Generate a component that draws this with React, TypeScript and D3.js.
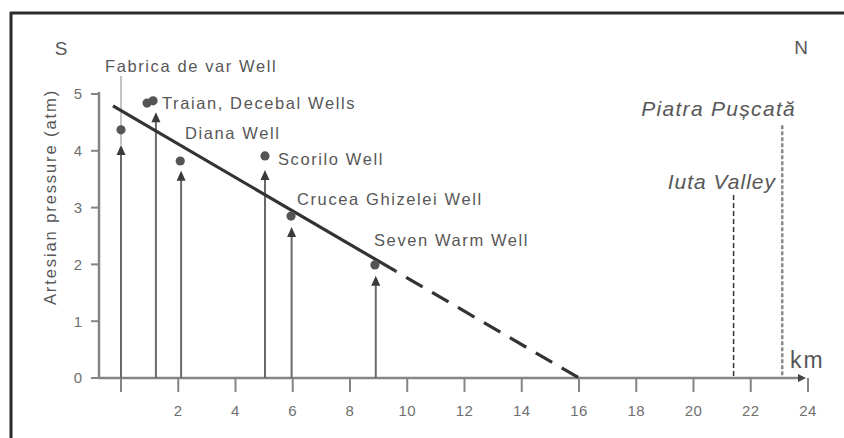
import React from 'react';
import * as d3 from 'd3';

// Wells: distance (km), measured artesian pressure (atm) and arrow top (atm)
const wellNames = [
  'Fabrica de var Well',
  'Traian, Decebal Wells',
  'Diana Well',
  'Scorilo Well',
  'Crucea Ghizelei Well',
  'Seven Warm Well',
];
const arrowKm = [0, 1.22, 2.1, 5.03, 5.96, 8.9];
const arrowTop = [4.1, 4.68, 3.65, 3.66, 2.66, 1.8];

// pressure points (Traian + Decebal are two dots)
const pointKm = [0, 0.91, 1.12, 2.07, 5.03, 5.94, 8.87];
const pointP = [4.37, 4.84, 4.88, 3.82, 3.91, 2.85, 1.99];

// trend line, solid part then projected (dashed) part
const trendSolid: [number, number][] = [[-0.28, 4.79], [9.6, 1.88]];
const trendDashed: [number, number][] = [[9.6, 1.88], [16, 0]];

// valley / peak markers
const markerNames = ['Iuta Valley', 'Piatra Pușcată'];
const markerKm = [21.4, 23.1];
const markerTop = [3.22, 4.45];

const xTicks = [0, 2, 4, 6, 8, 10, 12, 14, 16, 18, 20, 22, 24];
const yTicks = [0, 1, 2, 3, 4, 5];

const FONT = '"Liberation Sans", Arial, sans-serif';
const W = 844;
const H = 438;

// label placement in pixels
const labelOffsets = [
  { x: 105, y: 72 },
  { x: 162, y: 109 },
  { x: 185, y: 139 },
  { x: 278, y: 165 },
  { x: 297, y: 205 },
  { x: 374, y: 246 },
];

const App: React.FC = () => {
  const x = d3.scaleLinear().domain([0, 24]).range([121, 808]);
  const y = d3.scaleLinear().domain([0, 5]).range([378, 94]);

  const line = d3.line<[number, number]>()
    .x(d => x(d[0]))
    .y(d => y(d[1]));

  const textGray = '#575757';
  const axisGray = '#858585';

  return (
    <div style={{ position: 'absolute', left: 0, top: 0 }}>
      <svg width={W} height={H} style={{ display: 'block', background: '#fff' }}>
        {/* frame */}
        <line x1={10} y1={13} x2={W} y2={13} stroke="#2b2b2b" strokeWidth={3} />
        <line x1={11} y1={12} x2={11} y2={H} stroke="#2b2b2b" strokeWidth={3} />

        {/* direction letters */}
        <text x={61} y={55} textAnchor="middle" fontFamily={FONT} fontSize={19} fill={textGray}>S</text>
        <text x={801} y={54} textAnchor="middle" fontFamily={FONT} fontSize={19} fill={textGray}>N</text>

        {/* y axis */}
        <line x1={99} y1={92} x2={99} y2={y(0)} stroke={axisGray} strokeWidth={2.5} />
        {yTicks.map(t => (
          <g key={'y' + t}>
            <line x1={91} x2={99} y1={y(t)} y2={y(t)} stroke={axisGray} strokeWidth={2} />
            <text x={82} y={y(t)} dy="0.36em" textAnchor="end" fontFamily={FONT}
              fontSize={15} fill="#707070">{t}</text>
          </g>
        ))}
        <text transform={`translate(50,197) rotate(-90)`} textAnchor="middle" dy="0.35em"
          fontFamily={FONT} fontSize={16.5} letterSpacing={1.9} fill={textGray}>
          Artesian pressure (atm)
        </text>

        {/* x axis */}
        <line x1={99} y1={y(0)} x2={800} y2={y(0)} stroke={axisGray} strokeWidth={2.5} />
        <path d={`M${x(24) - 10},${y(0) - 4} L${x(24) - 2},${y(0)} L${x(24) - 10},${y(0) + 4} Z`} fill="#444" />
        {xTicks.map(t => (
          <g key={'x' + t}>
            <line x1={x(t)} x2={x(t)} y1={y(0)} y2={y(0) + 14} stroke={axisGray} strokeWidth={2} />
            {t > 0 && (
              <text x={x(t)} y={416} textAnchor="middle" fontFamily={FONT} fontSize={15}
                letterSpacing={0.5} fill="#707070">{t}</text>
            )}
          </g>
        ))}
        <text x={790} y={368} fontFamily={FONT} fontSize={23} letterSpacing={2} fill={textGray}>km</text>

        {/* leader line of the first well label */}
        <line x1={x(arrowKm[0])} x2={x(arrowKm[0])} y1={76} y2={y(arrowTop[0])}
          stroke="#c4c4c4" strokeWidth={2} />

        {/* well arrows */}
        {arrowKm.map((k, i) => {
          const ax = x(k);
          const top = y(arrowTop[i]);
          return (
            <g key={'a' + i}>
              <line x1={ax} x2={ax} y1={y(0)} y2={top + 6} stroke="#6a6a6a" strokeWidth={2} />
              <path d={`M${ax},${top} L${ax - 4.5},${top + 10} L${ax + 4.5},${top + 10} Z`} fill="#3a3a3a" />
            </g>
          );
        })}

        {/* trend */}
        <path d={line(trendSolid) || undefined} fill="none" stroke="#333" strokeWidth={3.2} />
        <path d={line(trendDashed) || undefined} fill="none" stroke="#333" strokeWidth={3.2}
          strokeDasharray="19 11" strokeDashoffset={-12} />

        {/* measured points */}
        {pointKm.map((k, i) => (
          <circle key={'p' + i} cx={x(k)} cy={y(pointP[i])} r={4.6} fill="#555" />
        ))}

        {/* well labels */}
        {wellNames.map((name, i) => (
          <text key={name} x={labelOffsets[i].x} y={labelOffsets[i].y} fontFamily={FONT}
            fontSize={16.5} letterSpacing={1.6} fill={textGray}>{name}</text>
        ))}

        {/* valley / peak markers */}
        <line x1={x(markerKm[0])} x2={x(markerKm[0])} y1={y(markerTop[0])} y2={y(0)}
          stroke="#333" strokeWidth={1.5} strokeDasharray="5 3" />
        <line x1={x(markerKm[1])} x2={x(markerKm[1])} y1={y(markerTop[1])} y2={y(0)}
          stroke="#8a8a8a" strokeWidth={2.5} strokeDasharray="4 2" />
        <text x={776} y={189} textAnchor="end" fontFamily={FONT} fontStyle="italic" fontSize={21}
          letterSpacing={1} fill={textGray}>{markerNames[0]}</text>
        <text x={796} y={116} textAnchor="end" fontFamily={FONT} fontStyle="italic" fontSize={21}
          letterSpacing={1.3} fill={textGray}>{markerNames[1]}</text>
      </svg>
    </div>
  );
};

export default App;
